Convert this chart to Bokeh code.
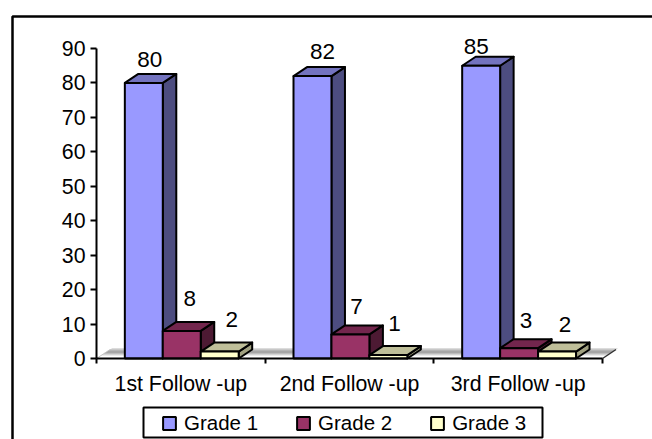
from bokeh.embed import file_html
from bokeh.resources import INLINE
from bokeh.plotting import figure
from bokeh.models import (BoxAnnotation, ColumnDataSource, FixedTicker, Legend,
                          LegendItem, Range1d)
from bokeh.core.properties import value

# Chart data
categories = ["1st Follow -up", "2nd Follow -up", "3rd Follow -up"]
series_names = ["Grade 1", "Grade 2", "Grade 3"]
grade_1 = [80, 82, 85]
grade_2 = [8, 7, 3]
grade_3 = [2, 1, 2]
y_ticks = [0, 10, 20, 30, 40, 50, 60, 70, 80, 90]

# Colours per series: front, top, side
palette = [("#9999FF", "#7373BF", "#4D4D80"),
           ("#993366", "#73264D", "#4D1A33"),
           ("#FFFFCC", "#BFBF99", "#A0A080")]

FONT = "Liberation Sans"
FS = "21.3px"

# Page and plot geometry: the frame fills the page, the axes sit at data zero
W, H = 652, 439
LEFT, TOP, BOTTOM = 96, 48, 358
UNIT_X = 168.67
PX_Y = 90 / (BOTTOM - TOP)
DX, DY = 13.5 / UNIT_X, 9 * PX_Y   # oblique depth of the 3D boxes
BAR_W, GAP = 0.225, 0.168

p = figure(width=W, height=H, output_backend="svg", toolbar_location=None,
           x_range=Range1d(-LEFT / UNIT_X, (W - LEFT) / UNIT_X),
           y_range=Range1d(-(H - BOTTOM) * PX_Y, BOTTOM * PX_Y),
           frame_width=W, frame_height=H, min_border=0,
           background_fill_color="white", border_fill_color="white",
           outline_line_color=None)
p.grid.visible = False

# Floor of the 3D plot area with its shaded back edge
p.patch([0, DX, 3 + DX, 3], [0, DY, DY, 0], fill_color="white",
        line_color=None)
for px, col in [(10, "#dcdcdc"), (9, "#c8c8c8"), (8, "#b4b4b4"), (7, "#a6a6a6"),
                (6, "#a6a6a6"), (5, "#bcbcbc"), (4, "#d4d4d4"), (3, "#ececec")]:
    h = px * PX_Y
    p.segment(x0=[h / DY * DX], y0=[h], x1=[3 + h / DY * DX], y1=[h],
              line_color=col, line_width=1)
p.line([0, DX], [0, DY], line_color="#c4c4c4", line_width=1)
p.line([3, 3 + DX], [0, DY], line_color="#303030", line_width=1.5)

# Boxes, drawn left to right so each one covers its neighbour's side face
fronts = []
for s, vals in enumerate([grade_1, grade_2, grade_3]):
    front, top, side = palette[s]
    lefts = [g + GAP + s * BAR_W for g in range(len(vals))]
    rights = [x + BAR_W for x in lefts]
    p.patches([[r, r + DX, r + DX, r] for r in rights],
              [[0, DY, v + DY, v] for v in vals],
              fill_color=side, line_color="black", line_width=2, line_join="round")
    p.patches([[l, l + DX, r + DX, r] for l, r in zip(lefts, rights)],
              [[v, v + DY, v + DY, v] for v in vals],
              fill_color=top, line_color="black", line_width=2, line_join="round")
    fronts.append(p.quad(left=lefts, right=rights, bottom=0, top=vals,
                         fill_color=front, line_color="black", line_width=2))

# Value labels, each nudged clear of its box
all_vals = grade_1 + grade_2 + grade_3
label_x = [g + GAP + s * BAR_W for s in range(3) for g in range(3)]
label_dx = [25, 29, 14, 27, 25, 26, 31, 25, 27]
label_dy = [-23, -25, -19, -32, -28, -28, -32, -32, -27]
labels = ColumnDataSource(dict(x=label_x, y=all_vals, dx=label_dx, dy=label_dy,
                               t=[str(v) for v in all_vals]))
p.text(x="x", y="y", text="t", x_offset="dx", y_offset="dy", source=labels,
       text_font=value(FONT), text_font_size=value("22.5px"), text_color="black",
       text_align="center", text_baseline="middle")

# Axes fixed at data zero inside the full-page frame
xa, ya = p.xaxis[0], p.yaxis[0]
xa.fixed_location = 0
ya.fixed_location = 0
xa.ticker = FixedTicker(ticks=[0.5, 1.5, 2.5], minor_ticks=[0, 1, 2, 3])
xa.major_label_overrides = {0.5: categories[0], 1.5: categories[1], 2.5: categories[2]}
xa.bounds = (0, 3)
xa.major_tick_out = 0
xa.major_tick_in = 0
xa.minor_tick_out = 5
xa.minor_tick_in = 0
xa.minor_tick_line_color = "black"
xa.minor_tick_line_width = 2
xa.major_label_standoff = 8
ya.ticker = FixedTicker(ticks=y_ticks)
ya.bounds = (0, 90)
ya.minor_tick_line_color = None
ya.major_tick_out = 6
ya.major_tick_in = 0
ya.major_tick_line_width = 2
ya.major_label_standoff = 5
for ax in (xa, ya):
    ax.axis_line_color = "black"
    ax.axis_line_width = 2
    ax.major_label_text_font = FONT
    ax.major_label_text_font_size = FS
    ax.major_label_text_color = "black"

# Legend and its box
legend = Legend(items=[LegendItem(label=n, renderers=[r])
                       for n, r in zip(series_names, fronts)],
                orientation="horizontal", location=(161, 4),
                border_line_color=None, background_fill_alpha=0,
                glyph_width=16, glyph_height=16, label_standoff=7, spacing=37,
                padding=0, margin=0, label_text_font=FONT, label_text_font_size="20.5px",
                label_text_color="black")
p.add_layout(legend, "center")
p.add_layout(BoxAnnotation(left=143, right=542, top=H - 407, bottom=H - 437,
                           left_units="screen", right_units="screen",
                           top_units="screen", bottom_units="screen",
                           fill_color=None, line_color="black", line_alpha=1, line_width=2))

# Outer chart frame, running past the right and bottom page edges
p.add_layout(BoxAnnotation(left=12, right=W + 60, top=H - 16, bottom=-60,
                           left_units="screen", right_units="screen",
                           top_units="screen", bottom_units="screen",
                           fill_color=None, line_color="black", line_alpha=1, line_width=2.5))

open("out.html", "w").write(file_html(p, INLINE))
